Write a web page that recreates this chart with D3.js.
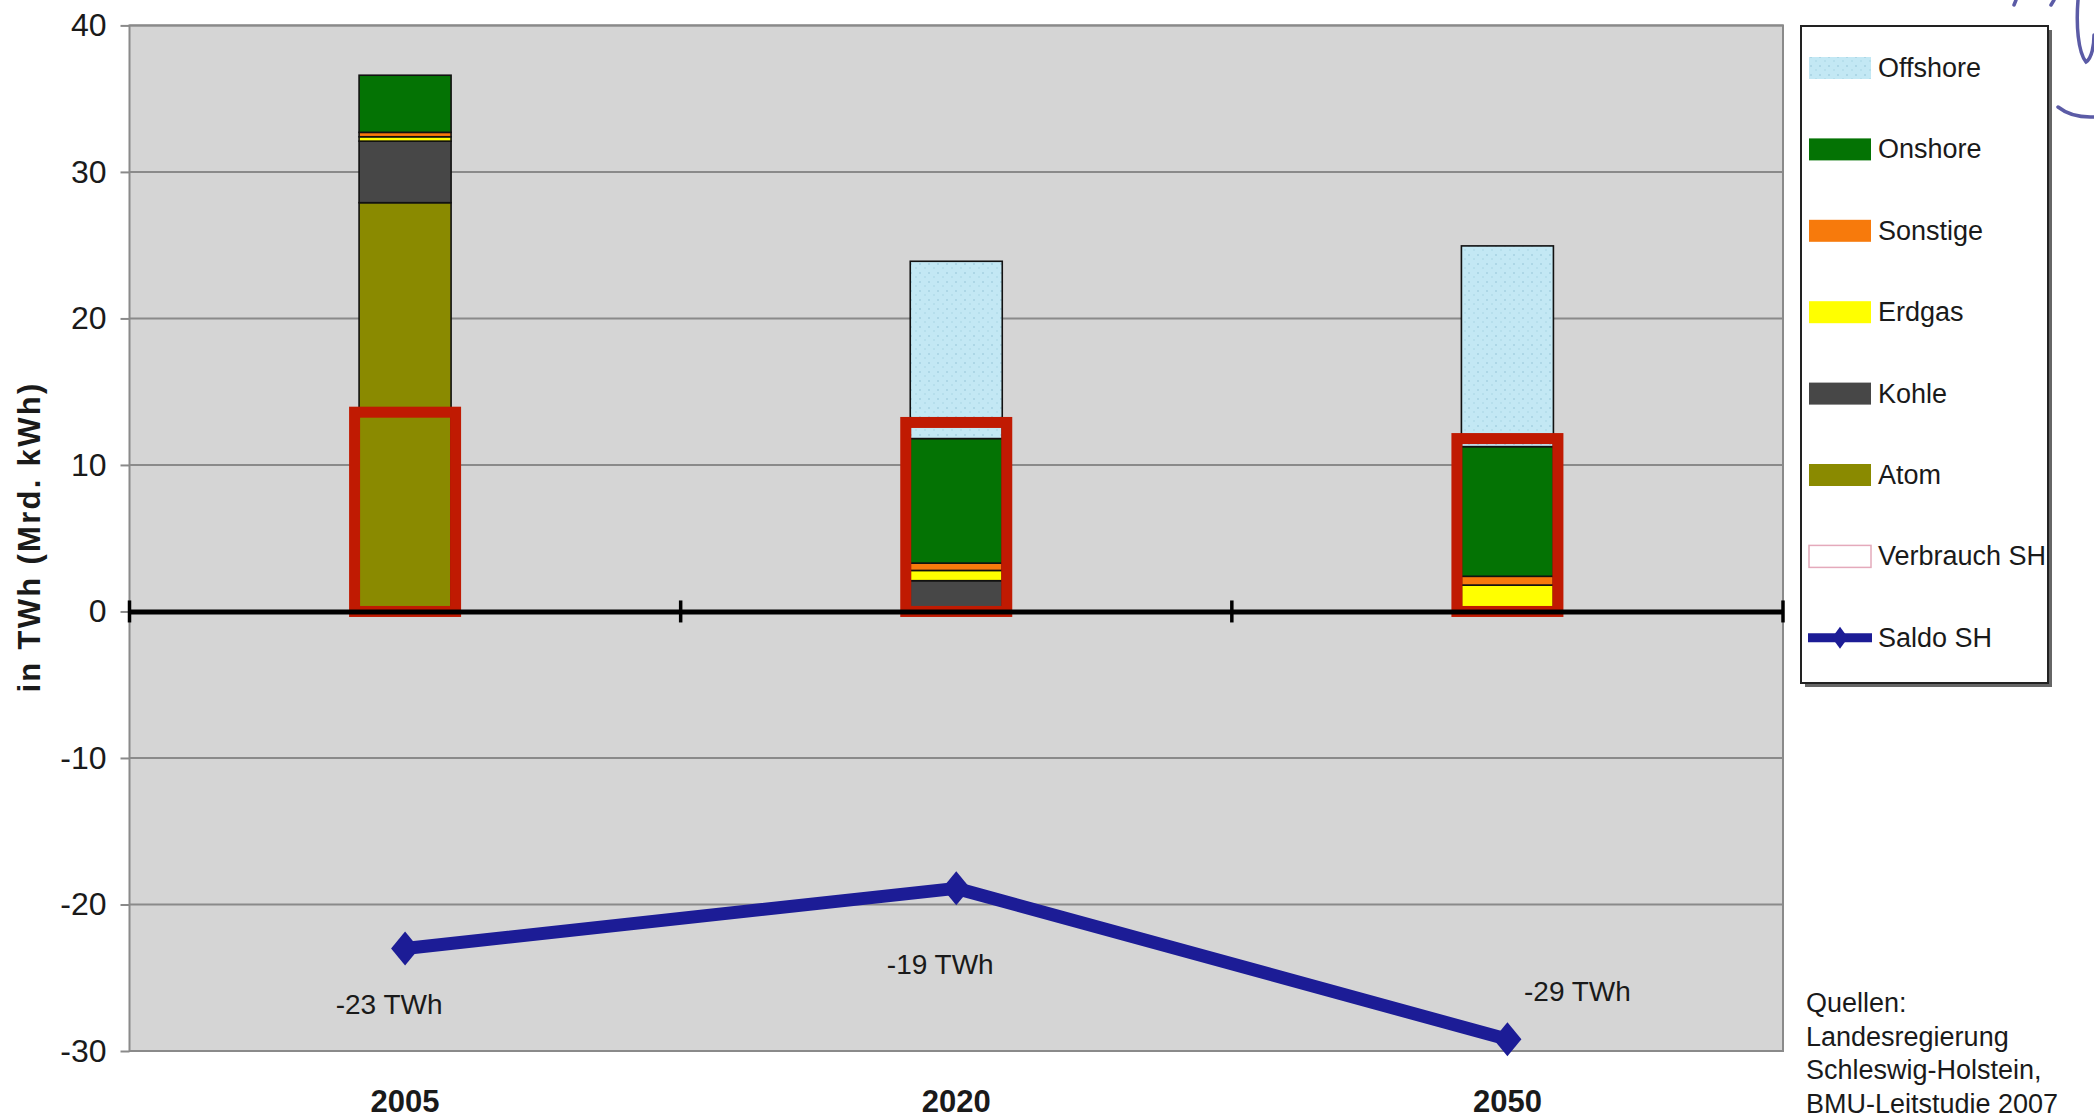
<!DOCTYPE html>
<html>
<head>
<meta charset="utf-8">
<script src="https://cdn.jsdelivr.net/npm/d3@7"></script>
<style>
	body { margin: 0; background: #fff; }
	text { font-family: "Liberation Sans", Arial, sans-serif; fill: #1a1a1a; }
</style>
</head>
<body>
<script>
// values (TWh)
var years = ["2005", "2020", "2050"]
var atom = [27.9, 0, 0]
var kohle = [4.2, 2.1, 0]
var erdgas = [0.3, 0.7, 1.8]
var sonstige = [0.3, 0.5, 0.6]
var onshore = [3.9, 8.5, 8.85]
var offshore = [0, 12.1, 13.7]
var verbrauch = [13.6, 12.9, 11.8]
var saldo = [-23.0, -18.9, -29.2]
var saldoLabels = ["-23 TWh", "-19 TWh", "-29 TWh"]
var yTicks = [-30, -20, -10, 0, 10, 20, 30, 40]
var sources = ["Quellen:", "Landesregierung", "Schleswig-Holstein,", "BMU-Leitstudie 2007"]

// stack order bottom -> top, legend lists it top -> bottom
var seriesNames = ["Atom", "Kohle", "Erdgas", "Sonstige", "Onshore", "Offshore"]
var seriesValues = [atom, kohle, erdgas, sonstige, onshore, offshore]
var colors = {
	Offshore: "url(#offshorePattern)",
	Onshore: "#047304",
	Sonstige: "#f77a0c",
	Erdgas: "#ffff00",
	Kohle: "#474747",
	Atom: "#8a8a00"
}
// where each saldo label sits relative to its point (px)
var labelOffsets = [[-16, 56], [-16, 76], [70, -48]]

function main() {
	var w = 2094
	var h = 1120
	var plot = { left: 129.5, right: 1783, top: 25.4, bottom: 1051 }

	var svg = d3.select("body")
		.append("svg")
		.attr("width", w)
		.attr("height", h)

	var defs = svg.append("defs")
	var pat = defs.append("pattern")
		.attr("id", "offshorePattern")
		.attr("patternUnits", "userSpaceOnUse")
		.attr("width", 9)
		.attr("height", 9)
	pat.append("rect").attr("width", 9).attr("height", 9).attr("fill", "#c3e8f4")
	pat.append("circle").attr("cx", 2).attr("cy", 3).attr("r", 1).attr("fill", "#a6d2e2")
	pat.append("circle").attr("cx", 7).attr("cy", 7).attr("r", 0.9).attr("fill", "#b0dbe9")

	// Scales
	var xScale = d3.scaleBand()
		.domain(years)
		.range([plot.left, plot.right])
		.padding(0)

	var yScale = d3.scaleLinear()
		.domain([-30, 40])
		.range([plot.bottom, plot.top])

	// plot area
	svg.append("rect")
		.attr("x", plot.left)
		.attr("y", plot.top)
		.attr("width", plot.right - plot.left)
		.attr("height", plot.bottom - plot.top)
		.attr("fill", "#d5d5d5")
		.attr("stroke", "#8a8a8a")
		.attr("stroke-width", 2)

	svg.append("g")
		.selectAll("line")
		.data(yTicks.filter((d) => d != 0))
		.enter()
		.append("line")
		.attr("x1", plot.left)
		.attr("x2", plot.right)
		.attr("y1", (d) => yScale(d))
		.attr("y2", (d) => yScale(d))
		.attr("stroke", "#8a8a8a")
		.attr("stroke-width", 2)

	// y axis
	var yAxis = d3.axisLeft(yScale)
		.tickValues(yTicks)
		.tickSize(9)
		.tickPadding(14)
		.tickFormat((d) => String(d))

	var gy = svg.append("g")
		.attr("transform", "translate(" + plot.left + ",0)")
		.call(yAxis)
	gy.select(".domain").remove()
	gy.selectAll("line").attr("stroke", "#8a8a8a").attr("stroke-width", 2)
	gy.selectAll("text")
		.style("font-size", "32px")
		.style("font-family", "'Liberation Sans', Arial, sans-serif")
		.attr("fill", "#1a1a1a")

	svg.append("text")
		.attr("transform", "translate(29," + 537 + ") rotate(-90)")
		.style("text-anchor", "middle")
		.attr("dominant-baseline", "central")
		.style("font-size", "31px")
		.style("font-weight", "bold")
		.style("letter-spacing", "2.3px")
		.text("in TWh (Mrd. kWh)")

	// stacked bars
	var barWidth = 92
	var stacked = years.map((yr, i) => {
		var base = 0
		return seriesNames.map((name, k) => {
			var v = seriesValues[k][i]
			var seg = { year: yr, name: name, y0: base, y1: base + v }
			base += v
			return seg
		}).filter((s) => s.y1 > s.y0)
	})

	svg.append("g")
		.selectAll("rect")
		.data(stacked.flat())
		.enter()
		.append("rect")
		.attr("x", (d) => xScale(d.year) + xScale.bandwidth() / 2 - barWidth / 2)
		.attr("y", (d) => yScale(d.y1))
		.attr("width", barWidth)
		.attr("height", (d) => yScale(d.y0) - yScale(d.y1))
		.attr("fill", (d) => colors[d.name])
		.attr("stroke", "#111")
		.attr("stroke-width", 1.6)

	// Verbrauch SH: hollow red boxes
	var boxWidth = 101
	svg.append("g")
		.selectAll("rect")
		.data(verbrauch)
		.enter()
		.append("rect")
		.attr("x", (d, i) => xScale(years[i]) + xScale.bandwidth() / 2 - boxWidth / 2)
		.attr("y", (d) => yScale(d))
		.attr("width", boxWidth)
		.attr("height", (d) => yScale(0) - yScale(d))
		.attr("fill", "none")
		.attr("stroke", "#c01a02")
		.attr("stroke-width", 11)

	// zero axis with category ticks
	var xAxis = d3.axisBottom(xScale)
		.tickValues([])
		.tickSizeOuter(0)
	var gx = svg.append("g")
		.attr("transform", "translate(0," + yScale(0) + ")")
		.call(xAxis)
	gx.select(".domain").attr("stroke", "#000").attr("stroke-width", 5)
	var bounds = years.map((yr) => xScale(yr)).concat([plot.right])
	gx.selectAll(".bound")
		.data(bounds)
		.enter()
		.append("line")
		.attr("class", "bound")
		.attr("x1", (d) => d)
		.attr("x2", (d) => d)
		.attr("y1", -11)
		.attr("y2", 11)
		.attr("stroke", "#000")
		.attr("stroke-width", 3.5)

	// category labels
	svg.append("g")
		.selectAll("text")
		.data(years)
		.enter()
		.append("text")
		.attr("x", (d) => xScale(d) + xScale.bandwidth() / 2)
		.attr("y", 1101)
		.attr("dominant-baseline", "central")
		.style("text-anchor", "middle")
		.style("font-size", "31px")
		.style("font-weight", "bold")
		.text((d) => d)

	// Saldo SH line
	var cx = (i) => xScale(years[i]) + xScale.bandwidth() / 2
	var line = d3.line()
		.x((d, i) => cx(i))
		.y((d) => yScale(d))

	svg.append("path")
		.datum(saldo)
		.attr("d", line)
		.attr("fill", "none")
		.attr("stroke", "#1c1c96")
		.attr("stroke-width", 13)
		.attr("stroke-linejoin", "round")

	var diamond = "M0,-17 L14,0 L0,17 L-14,0 Z"
	svg.append("g")
		.selectAll("path")
		.data(saldo)
		.enter()
		.append("path")
		.attr("d", diamond)
		.attr("transform", (d, i) => "translate(" + cx(i) + "," + yScale(d) + ")")
		.attr("fill", "#1c1c96")

	svg.append("g")
		.selectAll("text")
		.data(saldoLabels)
		.enter()
		.append("text")
		.attr("x", (d, i) => cx(i) + labelOffsets[i][0])
		.attr("y", (d, i) => yScale(saldo[i]) + labelOffsets[i][1])
		.attr("dominant-baseline", "central")
		.style("text-anchor", "middle")
		.style("font-size", "28px")
		.text((d) => d)

	// Legend
	var legend = svg.append("g")
	var lx = 1801, ly = 26, lw = 247, lh = 657
	legend.append("rect")
		.attr("x", lx + 4).attr("y", ly + 4)
		.attr("width", lw).attr("height", lh)
		.attr("fill", "#666")
	legend.append("rect")
		.attr("x", lx).attr("y", ly)
		.attr("width", lw).attr("height", lh)
		.attr("fill", "#fff")
		.attr("stroke", "#222")
		.attr("stroke-width", 2)

	var legendItems = seriesNames.slice().reverse().concat(["Verbrauch SH", "Saldo SH"])
	var rowY = (i) => 68 + i * 81.4

	legend.selectAll(".swatch")
		.data(legendItems.slice(0, 7))
		.enter()
		.append("rect")
		.attr("class", "swatch")
		.attr("x", 1809)
		.attr("y", (d, i) => rowY(i) - 11)
		.attr("width", 62)
		.attr("height", 22)
		.attr("fill", (d) => d == "Verbrauch SH" ? "#fff" : colors[d])
		.attr("stroke", (d) => d == "Verbrauch SH" ? "#e4aabb" : "none")
		.attr("stroke-width", 1.5)

	var sy = rowY(7)
	legend.append("line")
		.attr("x1", 1808).attr("x2", 1872)
		.attr("y1", sy).attr("y2", sy)
		.attr("stroke", "#1c1c96")
		.attr("stroke-width", 9)
	legend.append("path")
		.attr("d", "M0,-11 L8,0 L0,11 L-8,0 Z")
		.attr("transform", "translate(1840," + sy + ")")
		.attr("fill", "#1c1c96")

	legend.selectAll(".label")
		.data(legendItems)
		.enter()
		.append("text")
		.attr("class", "label")
		.attr("x", 1878)
		.attr("y", (d, i) => rowY(i))
		.attr("dominant-baseline", "central")
		.style("font-size", "27px")
		.text((d) => d)

	// sources
	svg.append("g")
		.selectAll("text")
		.data(sources)
		.enter()
		.append("text")
		.attr("x", 1806)
		.attr("y", (d, i) => 1003 + i * 33.6)
		.attr("dominant-baseline", "central")
		.style("font-size", "27px")
		.text((d) => d)

	// handwritten scribble fragment, top right corner
	var scribble = svg.append("g")
		.attr("fill", "none")
		.attr("stroke", "#5b5ba6")
		.attr("stroke-width", 3.5)
		.attr("stroke-linecap", "round")
	scribble.append("path").attr("d", "M2078,0 C2076,25 2078,52 2086,62 C2092,58 2094,45 2094,35")
	scribble.append("path").attr("d", "M2058,107 Q2072,118 2094,117")
	scribble.append("path").attr("d", "M2016,0 L2014,5")
	scribble.append("path").attr("d", "M2054,0 L2051,5")
}

main()
</script>
</body>
</html>
